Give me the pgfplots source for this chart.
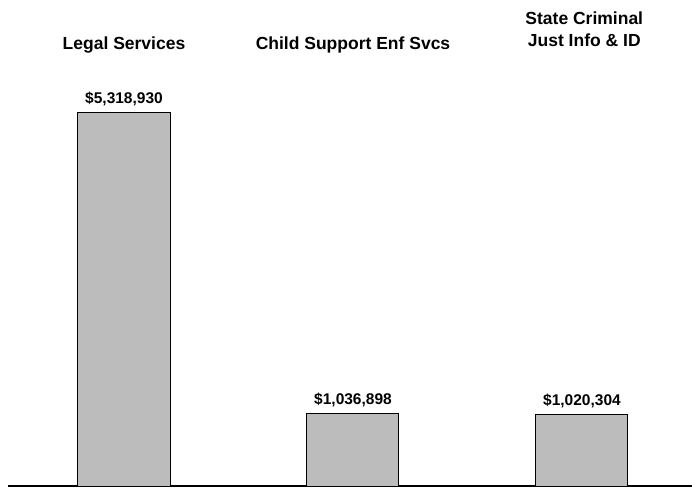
\documentclass[border=0pt]{standalone}
\usepackage{fontspec}
\setmainfont{Liberation Sans}
\usepackage{pgfplots}
\pgfplotsset{compat=1.18}
\definecolor{barfill}{RGB}{188,188,188}
\definecolor{baseline}{RGB}{160,160,160}
\begin{document}
\begin{tikzpicture}
\useasboundingbox (-124bp,-2bp) rectangle (568bp,486bp);
\begin{axis}[
  at={(0,0)}, anchor=origin,
  scale only axis,
  width=684bp, height=486bp,
  xmin=-0.507, xmax=2.48,
  ymin=0, ymax=6930000,
  axis y line=none,
  axis x line=bottom,
  x axis line style={baseline, line width=1.4bp, -},
  xtick=\empty, ytick=\empty,
  clip=false,
  ybar, bar width=92bp, bar shift=0pt,
  point meta=explicit symbolic,
  nodes near coords,
  every node near coord/.append style={font=\fontsize{15.5bp}{18bp}\selectfont\bfseries, anchor=base, yshift=9bp, inner sep=0pt},
]
\addplot[draw=black, line width=1bp, fill=barfill] coordinates {
  (0,5318930) [\$5,318,930]
  (1,1036898) [\$1,036,898]
  (2,1020304) [\$1,020,304]
};
\node[anchor=base, font=\fontsize{17.5bp}{20bp}\selectfont\bfseries] at (axis cs:0,0) [yshift=436bp] {Legal Services};
\node[anchor=base, font=\fontsize{17.5bp}{20bp}\selectfont\bfseries] at (axis cs:1,0) [yshift=436bp] {Child Support Enf Svcs};
\node[anchor=base, font=\fontsize{17.5bp}{20bp}\selectfont\bfseries] at (axis cs:2.01,0) [yshift=439bp] {Just Info \& ID};
\node[anchor=base, font=\fontsize{17.5bp}{20bp}\selectfont\bfseries] at (axis cs:2.01,0) [yshift=461bp] {State Criminal};
\end{axis}
\end{tikzpicture}
\end{document}
